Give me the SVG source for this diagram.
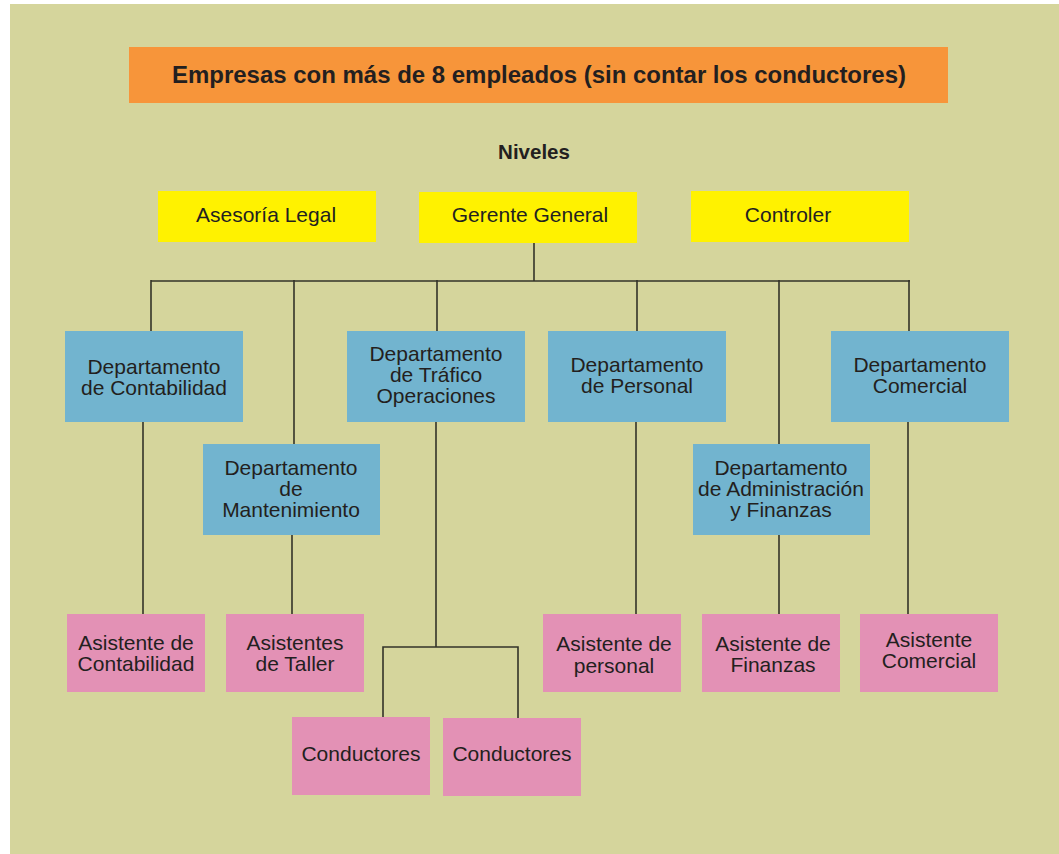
<svg xmlns="http://www.w3.org/2000/svg" width="1059" height="854" viewBox="0 0 1059 854">
<style>
text{font-family:"Liberation Sans",Arial,sans-serif;fill:#231f20;text-anchor:middle}
.t{font-size:21px}
.b{font-weight:bold}
.y{fill:#fff200}
.bl{fill:#72b4cf}
.p{fill:#e391b5}
.c line,.c path{stroke:#333329;stroke-width:1.6;fill:none}
</style>
<rect x="10" y="4" width="1049" height="850" fill="#d5d59c"/>
<g id="title">
<rect x="129" y="47" width="819" height="56" fill="#f7953a"/>
<text x="539" y="83" class="b" font-size="24" textLength="734" lengthAdjust="spacingAndGlyphs">Empresas con más de 8 empleados (sin contar los conductores)</text>
</g>
<g id="niveles"><text x="534" y="159" class="b" font-size="20.5">Niveles</text></g>
<g class="c" id="connectors">
<line x1="534" y1="242" x2="534" y2="281"/>
<line x1="151" y1="281" x2="910" y2="281"/>
<line x1="151" y1="280" x2="151" y2="331"/>
<line x1="294" y1="280" x2="294" y2="444"/>
<line x1="437" y1="280" x2="437" y2="331"/>
<line x1="637" y1="280" x2="637" y2="331"/>
<line x1="779" y1="280" x2="779" y2="444"/>
<line x1="909" y1="280" x2="909" y2="331"/>
<line x1="143" y1="421" x2="143" y2="614"/>
<line x1="292" y1="534" x2="292" y2="614"/>
<line x1="636" y1="421" x2="636" y2="614"/>
<line x1="779" y1="534" x2="779" y2="614"/>
<line x1="908" y1="421" x2="908" y2="614"/>
<line x1="436" y1="421" x2="436" y2="647"/>
<path d="M383 717V647H518V718"/>
</g>
<g id="asesoria"><rect class="y" x="158" y="191" width="218" height="51"/><text class="t" x="266" y="222">Asesoría Legal</text></g>
<g id="gerente"><rect class="y" x="419" y="192" width="218" height="51"/><text class="t" x="530" y="222">Gerente General</text></g>
<g id="controler"><rect class="y" x="691" y="191" width="218" height="51"/><text class="t" x="788" y="222">Controler</text></g>
<g id="dep-contabilidad"><rect class="bl" x="65" y="331" width="178" height="91"/><text class="t" x="154" y="374">Departamento</text><text class="t" x="154" y="395">de Contabilidad</text></g>
<g id="dep-trafico"><rect class="bl" x="347" y="331" width="178" height="91"/><text class="t" x="436" y="361">Departamento</text><text class="t" x="436" y="382">de Tráfico</text><text class="t" x="436" y="403">Operaciones</text></g>
<g id="dep-personal"><rect class="bl" x="548" y="331" width="178" height="91"/><text class="t" x="637" y="372">Departamento</text><text class="t" x="637" y="393">de Personal</text></g>
<g id="dep-comercial"><rect class="bl" x="831" y="331" width="178" height="91"/><text class="t" x="920" y="372">Departamento</text><text class="t" x="920" y="393">Comercial</text></g>
<g id="dep-mantenimiento"><rect class="bl" x="203" y="444" width="177" height="91"/><text class="t" x="291" y="475">Departamento</text><text class="t" x="291" y="496">de</text><text class="t" x="291" y="517">Mantenimiento</text></g>
<g id="dep-administracion"><rect class="bl" x="693" y="444" width="177" height="91"/><text class="t" x="781" y="475">Departamento</text><text class="t" x="781" y="496">de Administración</text><text class="t" x="781" y="517">y Finanzas</text></g>
<g id="asist-contabilidad"><rect class="p" x="67" y="614" width="138" height="78"/><text class="t" x="136" y="650">Asistente de</text><text class="t" x="136" y="671">Contabilidad</text></g>
<g id="asist-taller"><rect class="p" x="226" y="614" width="138" height="78"/><text class="t" x="295" y="650">Asistentes</text><text class="t" x="295" y="671">de Taller</text></g>
<g id="asist-personal"><rect class="p" x="543" y="614" width="138" height="78"/><text class="t" x="614" y="651">Asistente de</text><text class="t" x="614" y="673">personal</text></g>
<g id="asist-finanzas"><rect class="p" x="702" y="614" width="138" height="78"/><text class="t" x="773" y="651">Asistente de</text><text class="t" x="773" y="672">Finanzas</text></g>
<g id="asist-comercial"><rect class="p" x="860" y="614" width="138" height="78"/><text class="t" x="929" y="647">Asistente</text><text class="t" x="929" y="668">Comercial</text></g>
<g id="conductores-1"><rect class="p" x="292" y="717" width="138" height="78"/><text class="t" x="361" y="761">Conductores</text></g>
<g id="conductores-2"><rect class="p" x="443" y="718" width="138" height="78"/><text class="t" x="512" y="761">Conductores</text></g>
</svg>
